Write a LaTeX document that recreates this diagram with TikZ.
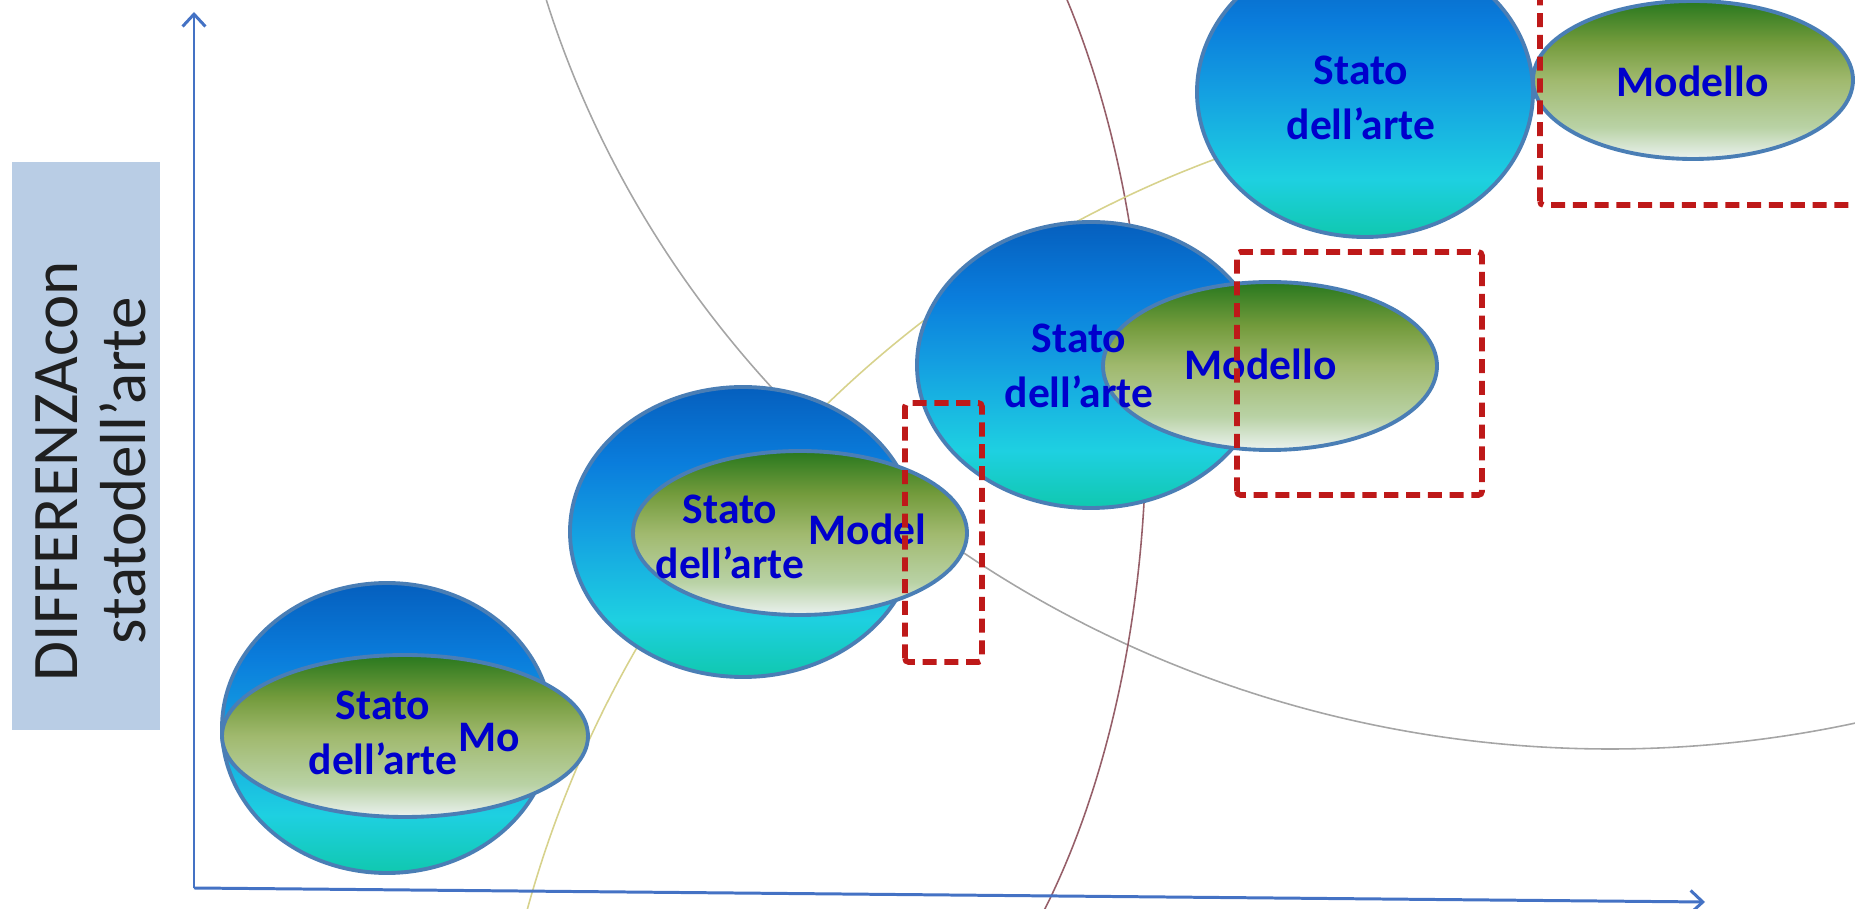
\documentclass[tikz,border=0pt]{standalone}
\usepackage{fontspec}
\setmainfont{Carlito}
\usepackage{tikz}
\usetikzlibrary{arrows.meta,positioning}

\definecolor{asseblu}{RGB}{68,114,196}
\definecolor{bordo}{RGB}{74,126,181}
\definecolor{testoblu}{RGB}{0,0,204}
\definecolor{rossoq}{RGB}{190,25,25}
\definecolor{etich}{RGB}{185,205,229}
\definecolor{arcgr}{RGB}{165,165,165}
\definecolor{arcrs}{RGB}{150,95,105}
\definecolor{arcgl}{RGB}{215,210,140}

\definecolor{sBot}{RGB}{16,200,175}
\definecolor{sLow}{RGB}{30,208,225}
\definecolor{sMid}{RGB}{20,160,225}
\definecolor{sUpp}{RGB}{10,125,220}
\definecolor{sTop}{RGB}{5,95,190}
\definecolor{mBot}{RGB}{235,242,240}
\definecolor{mLow}{RGB}{185,210,165}
\definecolor{mMid}{RGB}{160,185,110}
\definecolor{mUpp}{RGB}{115,155,60}
\definecolor{mTop}{RGB}{40,120,30}

\pgfdeclareverticalshading{statosh}{100bp}{color(0bp)=(sBot); color(25bp)=(sBot); color(35bp)=(sLow); color(50bp)=(sMid); color(62bp)=(sUpp); color(75bp)=(sTop); color(100bp)=(sTop)}
\pgfdeclareverticalshading{modsh}{100bp}{color(0bp)=(mBot); color(25bp)=(mBot); color(35bp)=(mLow); color(50bp)=(mMid); color(62bp)=(mUpp); color(75bp)=(mTop); color(100bp)=(mTop)}

\begin{document}
\begin{tikzpicture}[
  asse/.style={draw=asseblu, line width=.85pt, -{Straight Barb[length=3.5pt,width=6.5pt]}},
  stato/.style={draw=bordo, line width=1.1pt, shading=statosh},
  modello/.style={draw=bordo, line width=1.1pt, shading=modsh},
  txt/.style={text=testoblu, font=\bfseries\fontsize{12.4}{15.6}\selectfont, inner sep=0pt, align=center},
  riquadro/.style={draw=rossoq, line width=1.6pt, dash pattern=on 4pt off 2.2pt, rounded corners=1pt},
  curva/.style={line width=.45pt}
]
\useasboundingbox (0,0) rectangle (18.55,9.09);
\clip (0,0) rectangle (18.55,9.09);

% etichetta asse y
\fill[etich] (0.12,1.79) rectangle (1.60,7.47);
\node[rotate=90, align=center, inner sep=0pt, text=black!88, font=\fontsize{18.5}{19.5}\selectfont] (lab) at (0.91,4.38) {DIFFERENZAcon\\statodell’arte};

% archi
\draw[curva, arcgr] (16.10,12.09) ++(190:11.10 and 10.49) arc[start angle=190, end angle=290, x radius=11.10, y radius=10.49];
\draw[curva, arcrs] (7.72,4.79) ++(-60:3.74 and 7) arc[start angle=-60, end angle=60, x radius=3.74, y radius=7];
\draw[curva, arcgl] (16.05,-2.98) ++(170:11.18) arc[start angle=170, end angle=100, radius=11.18];

% assi
\coordinate (O) at (1.94,0.21);
\coordinate (ytip) at (1.94,8.97);
\coordinate (xtip) at (17.05,0.07);
\draw[asse] (O) -- (ytip);
\draw[asse] (O) -- (xtip);

% bolla 1
\path[stato] (3.87,1.81) ellipse [x radius=1.65, y radius=1.45];
\path[modello] (4.05,1.73) ellipse [x radius=1.83, y radius=0.81];
\node[txt, anchor=north] (st1) at (3.83,2.19) {Stato\\dell’arte};
\node[txt, anchor=base west] (mo1) at (4.58,1.57) {Mo};

% bolla 2
\path[stato] (7.43,3.77) ellipse [x radius=1.73, y radius=1.45];
\path[modello] (8.00,3.76) ellipse [x radius=1.67, y radius=0.82];
\node[txt, anchor=north] (st2) at (7.30,4.15) {Stato\\dell’arte};
\node[txt, anchor=base west] (mo2) at (8.08,3.64) {Model};

% bolla 3
\path[stato] (10.91,5.44) ellipse [x radius=1.74, y radius=1.43];
\path[modello] (12.70,5.43) ellipse [x radius=1.67, y radius=0.84];
\node[txt, anchor=north] (st3) at (10.79,5.86) {Stato\\dell’arte};
\node[txt, anchor=base west] (mo3) at (11.84,5.29) {Modello};

% bolla 4
\path[stato] (13.65,8.17) ellipse [x radius=1.68, y radius=1.45];
\path[modello] (16.93,8.29) ellipse [x radius=1.60, y radius=0.79];
\node[txt, anchor=north] (st4) at (13.61,8.54) {Stato\\dell’arte};
\node[txt, anchor=base west] (mo4) at (16.16,8.12) {Modello};

% riquadri
\draw[riquadro] (9.05,2.47) rectangle (9.82,5.06);
\draw[riquadro] (12.37,4.14) rectangle (14.82,6.57);
\draw[riquadro] (15.40,7.04) rectangle (19.00,9.60);

\end{tikzpicture}
\end{document}
